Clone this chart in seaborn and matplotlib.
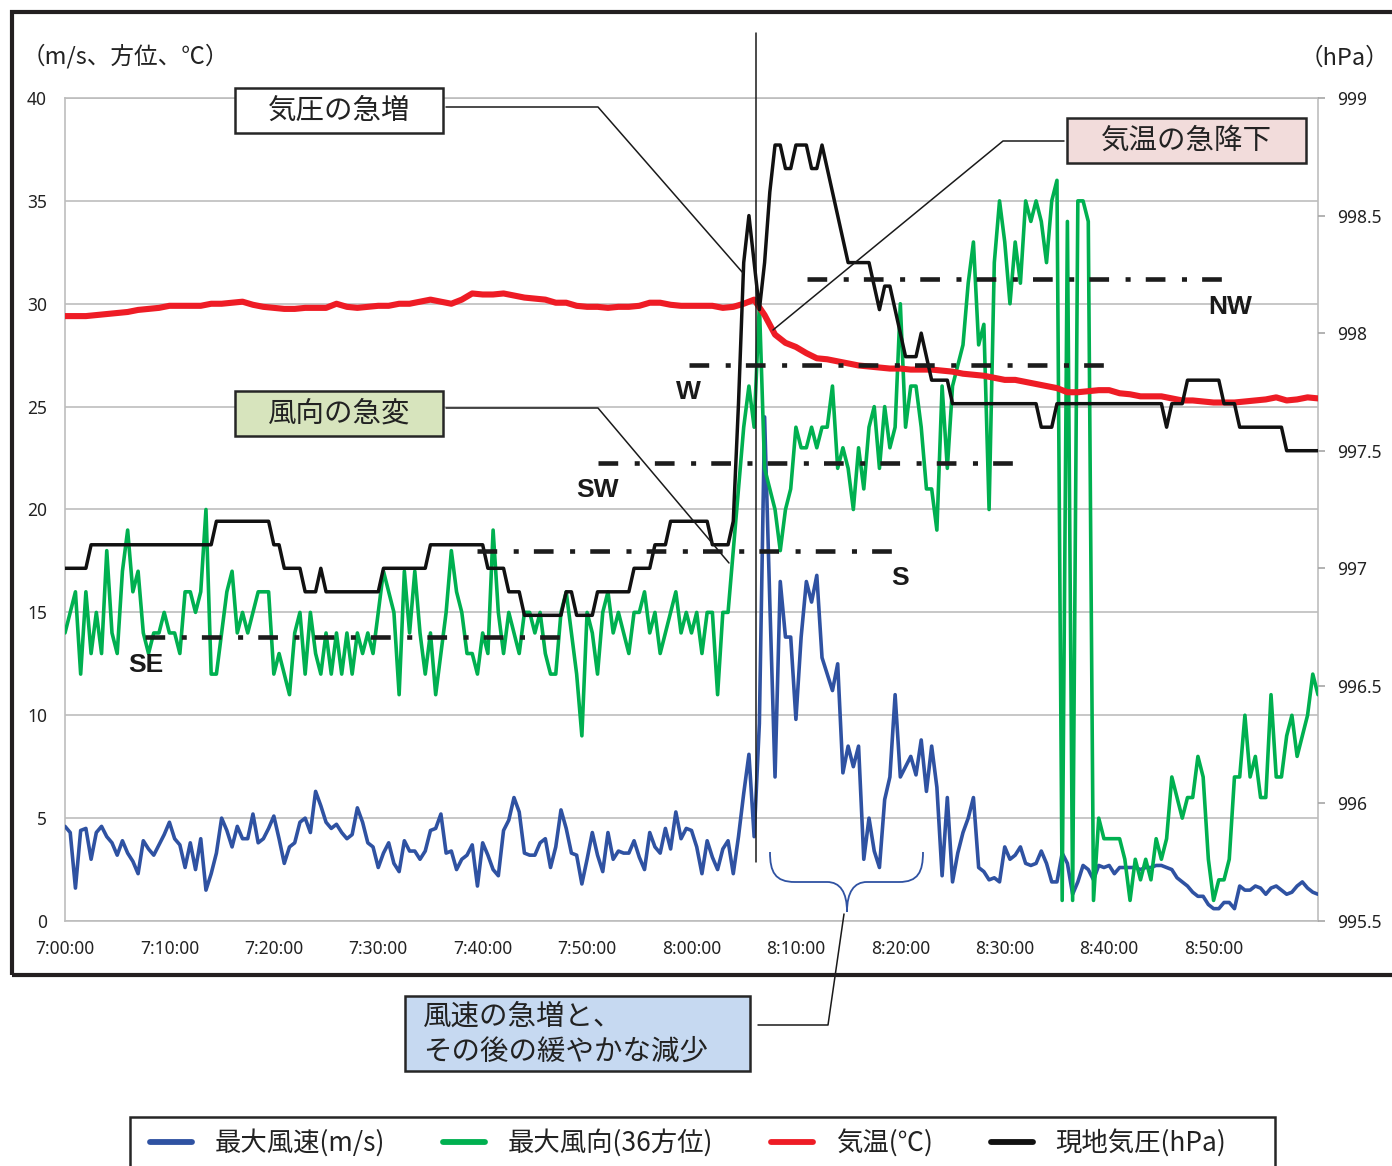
import numpy as np
import pandas as pd
import matplotlib
matplotlib.use("Agg")
import matplotlib.pyplot as plt
import seaborn as sns
from matplotlib.lines import Line2D
from matplotlib.patches import Rectangle, PathPatch
from matplotlib.path import Path

W, H, DPI = 1392, 1166, 100

# ---------------------------------------------------------------- data
# 30-second samples from 7:00:00 (minute 0) to 9:00:00 (minute 120)
SAMPLE_STEP_MIN = 0.5

WIND_SPEED = [  # m/s
    4.6, 4.3, 1.6, 4.4, 4.5, 3.0, 4.3, 4.6, 4.1, 3.8,
    3.2, 3.9, 3.3, 2.9, 2.3, 3.9, 3.5, 3.2, 3.7, 4.2,
    4.8, 4.0, 3.7, 2.6, 3.8, 2.5, 4.0, 1.5, 2.3, 3.3,
    5.0, 4.4, 3.6, 4.6, 4.0, 4.0, 5.2, 3.8, 4.0, 4.5,
    5.1, 4.0, 2.8, 3.6, 3.8, 4.8, 5.0, 4.3, 6.3, 5.6,
    4.8, 4.5, 4.7, 4.3, 4.0, 4.2, 5.5, 4.8, 3.8, 3.6,
    2.6, 3.3, 3.8, 2.8, 2.4, 3.9, 3.4, 3.4, 3.0, 3.4,
    4.4, 4.5, 5.2, 3.3, 3.4, 2.5, 3.0, 3.2, 3.7, 1.7,
    3.8, 3.2, 2.5, 2.2, 4.4, 4.9, 6.0, 5.3, 3.3, 3.2,
    3.2, 3.8, 4.0, 2.6, 3.6, 5.4, 4.5, 3.3, 3.2, 1.8,
    3.0, 4.3, 3.2, 2.4, 4.3, 3.0, 3.4, 3.3, 3.3, 3.9,
    3.1, 2.5, 4.3, 3.6, 3.3, 4.5, 3.5, 5.3, 4.0, 4.5,
    4.4, 3.6, 2.3, 3.9, 3.1, 2.5, 3.5, 3.9, 2.3, 4.1,
    6.2, 8.1, 4.1, 9.6, 24.5, 15.5, 7.0, 16.5, 13.8, 13.8,
    9.8, 13.8, 16.5, 15.5, 16.8, 12.8, 12.0, 11.2, 12.5, 7.2,
    8.5, 7.5, 8.5, 3.0, 5.0, 3.4, 2.6, 5.9, 7.0, 11.0,
    7.0, 7.5, 8.0, 7.1, 8.8, 6.3, 8.5, 6.5, 2.2, 6.0,
    1.9, 3.3, 4.3, 5.0, 6.0, 2.6, 2.4, 2.0, 2.1, 1.9,
    3.6, 3.0, 3.2, 3.6, 2.8, 2.7, 2.8, 3.4, 2.8, 1.9,
    1.9, 3.3, 2.8, 1.3, 1.9, 2.7, 2.5, 2.0, 2.7, 2.6,
    2.7, 2.3, 2.6, 2.6, 2.6, 2.6, 2.5, 2.6, 2.6, 2.7,
    2.7, 2.6, 2.5, 2.1, 1.9, 1.7, 1.4, 1.2, 1.2, 0.8,
    0.6, 0.6, 0.9, 0.9, 0.6, 1.7, 1.5, 1.5, 1.7, 1.6,
    1.3, 1.6, 1.7, 1.5, 1.3, 1.4, 1.7, 1.9, 1.6, 1.4, 1.3,
]

WIND_DIR = [  # 36-point compass
    14, 15, 16, 12, 16, 13, 15, 13, 18, 14,
    13, 17, 19, 16, 17, 14, 13, 14, 14, 15,
    14, 14, 13, 16, 16, 15, 16, 20, 12, 12,
    14, 16, 17, 14, 15, 14, 15, 16, 16, 16,
    12, 13, 12, 11, 14, 15, 12, 15, 13, 12,
    14, 12, 14, 12, 14, 12, 14, 13, 14, 13,
    15, 17, 16, 15, 11, 17, 14, 17, 14, 12,
    14, 11, 13, 15, 18, 16, 15, 13, 13, 12,
    14, 13, 19, 15, 13, 15, 14, 13, 15, 15,
    14, 15, 13, 12, 12, 15, 16, 14, 12, 9,
    15, 14, 12, 15, 16, 14, 15, 14, 13, 15,
    15, 16, 14, 15, 13, 14, 15, 16, 14, 15,
    14, 15, 13, 15, 15, 11, 15, 15, 18, 21,
    24, 26, 24, 30, 22, 21, 20, 18, 20, 21,
    24, 23, 23, 24, 23, 24, 24, 26, 22, 23,
    22, 20, 23, 21, 24, 25, 22, 25, 23, 24,
    30, 24, 26, 26, 24, 21, 21, 19, 26, 22,
    26, 27, 28, 31, 33, 28, 29, 20, 32, 35,
    33, 30, 33, 31, 35, 34, 35, 34, 32, 35,
    36, 1, 34, 1, 35, 35, 34, 1, 5, 4,
    4, 4, 4, 3, 1, 3, 2, 3, 2, 4,
    3, 4, 7, 6, 5, 6, 6, 8, 7, 3,
    1, 2, 2, 3, 7, 7, 10, 7, 8, 6,
    6, 11, 7, 7, 9, 10, 8, 9, 10, 12, 11,
]

# station pressure (hPa): successive values and how many 30-s samples each lasts
PRESSURE_LEVELS = [
    997.0, 997.1, 997.2, 997.1, 997.0, 996.9, 997.0, 996.9, 997.0, 997.1,
    997.0, 996.9, 996.8, 996.9, 996.8, 996.9, 997.0, 997.1, 997.2, 997.1,
    997.2, 997.7, 998.3, 998.5, 998.3, 998.1, 998.3, 998.6, 998.8, 998.7,
    998.8, 998.7, 998.8, 998.7, 998.6, 998.5, 998.4, 998.3, 998.2, 998.1,
    998.2, 998.1, 998.0, 997.9, 998.0, 997.9, 997.8, 997.7, 997.6, 997.7,
    997.6, 997.7, 997.8, 997.7, 997.6, 997.5,
]
PRESSURE_RUNS = [
    5, 24, 11, 2, 4, 3, 1, 11, 9, 11,
    4, 3, 8, 2, 4, 7, 4, 3, 8, 4,
    1, 1, 1, 1, 1, 1, 1, 1, 2, 2,
    3, 2, 1, 1, 1, 1, 1, 5, 1, 1,
    2, 1, 1, 3, 1, 1, 4, 17, 3, 21,
    1, 3, 7, 3, 9, 7,
]

# air temperature (degC), 1-minute samples
TEMPERATURE = [
    29.4, 29.4, 29.4, 29.45, 29.5, 29.55, 29.6, 29.7, 29.75, 29.8,
    29.9, 29.9, 29.9, 29.9, 30.0, 30.0, 30.05, 30.1, 29.95, 29.85,
    29.8, 29.75, 29.75, 29.8, 29.8, 29.8, 30.0, 29.85, 29.8, 29.85,
    29.9, 29.9, 30.0, 30.0, 30.1, 30.2, 30.1, 30.0, 30.2, 30.5,
    30.45, 30.45, 30.5, 30.4, 30.3, 30.25, 30.2, 30.05, 30.05, 29.9,
    29.85, 29.85, 29.8, 29.85, 29.85, 29.9, 30.05, 30.05, 29.95, 29.9,
    29.9, 29.9, 29.9, 29.8, 29.85, 30.0, 30.2, 29.45, 28.5, 28.1,
    27.9, 27.6, 27.35, 27.3, 27.2, 27.1, 27.0, 26.95, 26.9, 26.85,
    26.85, 26.8, 26.8, 26.8, 26.75, 26.7, 26.6, 26.55, 26.5, 26.4,
    26.3, 26.3, 26.2, 26.1, 26.0, 25.9, 25.7, 25.7, 25.75, 25.8,
    25.8, 25.65, 25.6, 25.5, 25.5, 25.5, 25.4, 25.3, 25.3, 25.25,
    25.2, 25.2, 25.2, 25.25, 25.3, 25.35, 25.45, 25.3, 25.35, 25.45,
    25.4,
]

TIME_TICK_MIN = [0, 10, 20, 30, 40, 50, 60, 70, 80, 90, 100, 110]
TIME_TICK_LABELS = ["7:00:00", "7:10:00", "7:20:00", "7:30:00", "7:40:00", "7:50:00",
                    "8:00:00", "8:10:00", "8:20:00", "8:30:00", "8:40:00", "8:50:00"]
LEFT_TICKS = [0, 5, 10, 15, 20, 25, 30, 35, 40]
RIGHT_TICKS = [995.5, 996.0, 996.5, 997.0, 997.5, 998.0, 998.5, 999.0]

# compass reference levels (36-point scale) with the span they are drawn over
COMPASS_NAMES = ["SE", "S", "SW", "W", "NW"]
COMPASS_LEVELS = [13.8, 18.0, 22.25, 27.0, 31.2]
COMPASS_START_MIN = [7.7, 39.5, 51.0, 59.8, 71.1]
COMPASS_SPAN_MIN = 40.5
COMPASS_LABEL_POS = [(7.7, 12.45), (80.0, 16.67), (51.0, 20.95), (59.7, 25.71), (111.6, 29.84)]

EVENT_MIN = 66.2  # gust-front passage

SERIES_NAMES = ["最大風速(m/s)", "最大風向(36方位)", "気温(℃)", "現地気圧(hPa)"]

BLUE, GREEN, RED, BLACK = "#2f52a2", "#00b050", "#ee1c25", "#111111"
GRID = "#bdbdbd"
TXT = "#222222"

# ---------------------------------------------------------------- frames
t_fast = np.arange(len(WIND_SPEED)) * SAMPLE_STEP_MIN
pressure = np.repeat(PRESSURE_LEVELS, PRESSURE_RUNS)
fast = pd.DataFrame({"t": t_fast, "speed": WIND_SPEED, "dir": WIND_DIR, "pres": pressure})
temp = pd.DataFrame({"t": np.arange(len(TEMPERATURE)) * 1.0, "temp": TEMPERATURE})

sns.set_theme(style="white")
plt.rcParams["font.family"] = ["Noto Sans CJK JP", "DejaVu Sans"]
plt.rcParams["axes.unicode_minus"] = False

fig = plt.figure(figsize=(W / DPI, H / DPI), dpi=DPI)
fig.patch.set_facecolor("white")


def fx(x):
    return x / W


def fy(y):
    return 1 - y / H


ax = fig.add_axes([fx(65), fy(921), (1318 - 65) / W, (921 - 98) / H])
ax2 = ax.twinx()

common = dict(estimator=None, errorbar=None, legend=False, sort=False)
sns.lineplot(data=fast, x="t", y="speed", ax=ax, color=BLUE, linewidth=2.6, zorder=3, **common)
sns.lineplot(data=fast, x="t", y="dir", ax=ax, color=GREEN, linewidth=2.6, zorder=4, **common)
sns.lineplot(data=temp, x="t", y="temp", ax=ax, color=RED, linewidth=4.4, zorder=5, **common)
sns.lineplot(data=fast, x="t", y="pres", ax=ax2, color=BLACK, linewidth=2.5, zorder=3, **common)

# compass reference lines and their labels (kept above every series)
for name, lev, start, (lx, ly) in zip(COMPASS_NAMES, COMPASS_LEVELS, COMPASS_START_MIN, COMPASS_LABEL_POS):
    ax2.plot([start, start + COMPASS_SPAN_MIN], [lev, lev], transform=ax.transData,
             color="#1c1c1c", linewidth=3.3, dashes=(4.3, 3.6, 1.1, 3.3), zorder=6)
    ax2.text(lx, ly, name, transform=ax.transData, ha="center", va="center",
             fontsize=19, fontweight="bold", family="Liberation Sans", color="#1a1a1a", zorder=7)

# event marker
ax2.axvline(EVENT_MIN, ymin=(921 - 862) / 823, ymax=(921 - 33) / 823, clip_on=False,
            color="#1a1a1a", linewidth=1.1, zorder=8)

# axes cosmetics
ax.set_xlim(0, 120)
ax.set_ylim(0, 40)
ax2.set_ylim(995.5, 999)
ax.set_xticks(TIME_TICK_MIN)
ax.set_xticklabels(TIME_TICK_LABELS)
ax.set_yticks(LEFT_TICKS)
ax.set_yticklabels([f"{v:g}" for v in LEFT_TICKS])
ax2.set_yticks(RIGHT_TICKS)
ax2.set_yticklabels([f"{v:g}" for v in RIGHT_TICKS])
for a in (ax, ax2):
    a.set_xlabel("")
    a.set_ylabel("")
ax.grid(axis="y", color=GRID, linewidth=1.2)
ax.grid(axis="x", visible=False)
for s in ax.spines.values():
    s.set_color(GRID)
    s.set_linewidth(1.2)
for s in ax2.spines.values():
    s.set_visible(False)
ax.tick_params(axis="x", length=0, pad=14, labelsize=12.5, labelcolor=TXT, labelfontfamily="Noto Sans")
ax.tick_params(axis="y", length=0, pad=13, labelsize=12.5, labelcolor=TXT, labelfontfamily="Noto Sans")
ax2.tick_params(axis="y", length=5, width=1.2, color="#a6a6a6", pad=9, labelsize=12.5,
                labelcolor=TXT, labelfontfamily="Noto Sans", direction="out")

# unit captions
fig.text(fx(22), fy(56), "（m/s、方位、℃）", ha="left", va="center", fontsize=17, color=TXT)
fig.text(fx(1389), fy(58), "（hPa）", ha="right", va="center", fontsize=17, color=TXT)


def callout(x0, y0, x1, y1, face):
    fig.add_artist(Rectangle((fx(x0), fy(y1)), (x1 - x0) / W, (y1 - y0) / H,
                             transform=fig.transFigure, facecolor=face,
                             edgecolor="#262626", linewidth=1.8, zorder=10))


def leader(xs, ys, color="#1a1a1a", lw=1.1):
    fig.add_artist(Line2D([fx(x) for x in xs], [fy(y) for y in ys],
                          transform=fig.transFigure, color=color, linewidth=lw, zorder=9))


# 気圧の急増
callout(235, 88, 443, 133, "white")
fig.text(fx(339), fy(111), "気圧の急増", ha="center", va="center", fontsize=20.5, color=TXT, zorder=11)
leader([446, 598, 743], [107, 107, 273])

# 気温の急降下
callout(1067, 118, 1306, 163, "#f2dcdb")
fig.text(fx(1186.5), fy(141), "気温の急降下", ha="center", va="center", fontsize=20.5, color=TXT, zorder=11)
leader([1064, 1003, 773], [141, 141, 330])

# 風向の急変
callout(235, 391, 443, 436, "#d7e4bd")
fig.text(fx(339), fy(414), "風向の急変", ha="center", va="center", fontsize=20.5, color=TXT, zorder=11)
leader([446, 598, 729], [408, 408, 563])

# 風速の急増と、その後の緩やかな減少
callout(405, 996, 750, 1071, "#c6d9f1")
fig.text(fx(423), fy(1017), "風速の急増と、", ha="left", va="center", fontsize=20.5, color=TXT, zorder=11)
fig.text(fx(423), fy(1052), "その後の緩やかな減少", ha="left", va="center", fontsize=20.5, color=TXT, zorder=11)
leader([758, 828, 844], [1025, 1025, 914])

# curly brace under the strong-wind period
brace = Path(
    [(770, 852), (770, 872), (775, 882), (795, 882), (827, 882),
     (840, 882), (847, 892), (847, 912),
     (847, 892), (854, 882), (867, 882), (899, 882),
     (918, 882), (923, 872), (923, 852)],
    [Path.MOVETO, Path.CURVE4, Path.CURVE4, Path.CURVE4, Path.LINETO,
     Path.CURVE4, Path.CURVE4, Path.CURVE4,
     Path.CURVE4, Path.CURVE4, Path.CURVE4, Path.LINETO,
     Path.CURVE4, Path.CURVE4, Path.CURVE4],
)
brace = Path([(fx(x), fy(y)) for x, y in brace.vertices], brace.codes)
fig.add_artist(PathPatch(brace, transform=fig.transFigure, fill=False,
                         edgecolor=BLUE, linewidth=1.3, zorder=9))

# legend
handles = [Line2D([], [], color=c, linewidth=4.2) for c in (BLUE, GREEN, RED, BLACK)]
fig.legend(handles, SERIES_NAMES, loc="center left", bbox_to_anchor=(fx(150), fy(1143)),
           ncol=4, frameon=False, fontsize=19, handlelength=1.6, handletextpad=0.85,
           columnspacing=2.2, borderpad=0, borderaxespad=0, labelcolor=TXT)
fig.add_artist(Rectangle((fx(130), fy(1195)), (1275 - 130) / W, (1195 - 1117) / H,
                         transform=fig.transFigure, fill=False, edgecolor="#262626",
                         linewidth=1.8, zorder=10))

# outer chart frame
fig.add_artist(Rectangle((fx(12), fy(975)), (1430 - 12) / W, (975 - 12) / H,
                         transform=fig.transFigure, fill=False, edgecolor="#231f20",
                         linewidth=3.0, zorder=10))

fig.savefig("out.png", dpi=DPI)
